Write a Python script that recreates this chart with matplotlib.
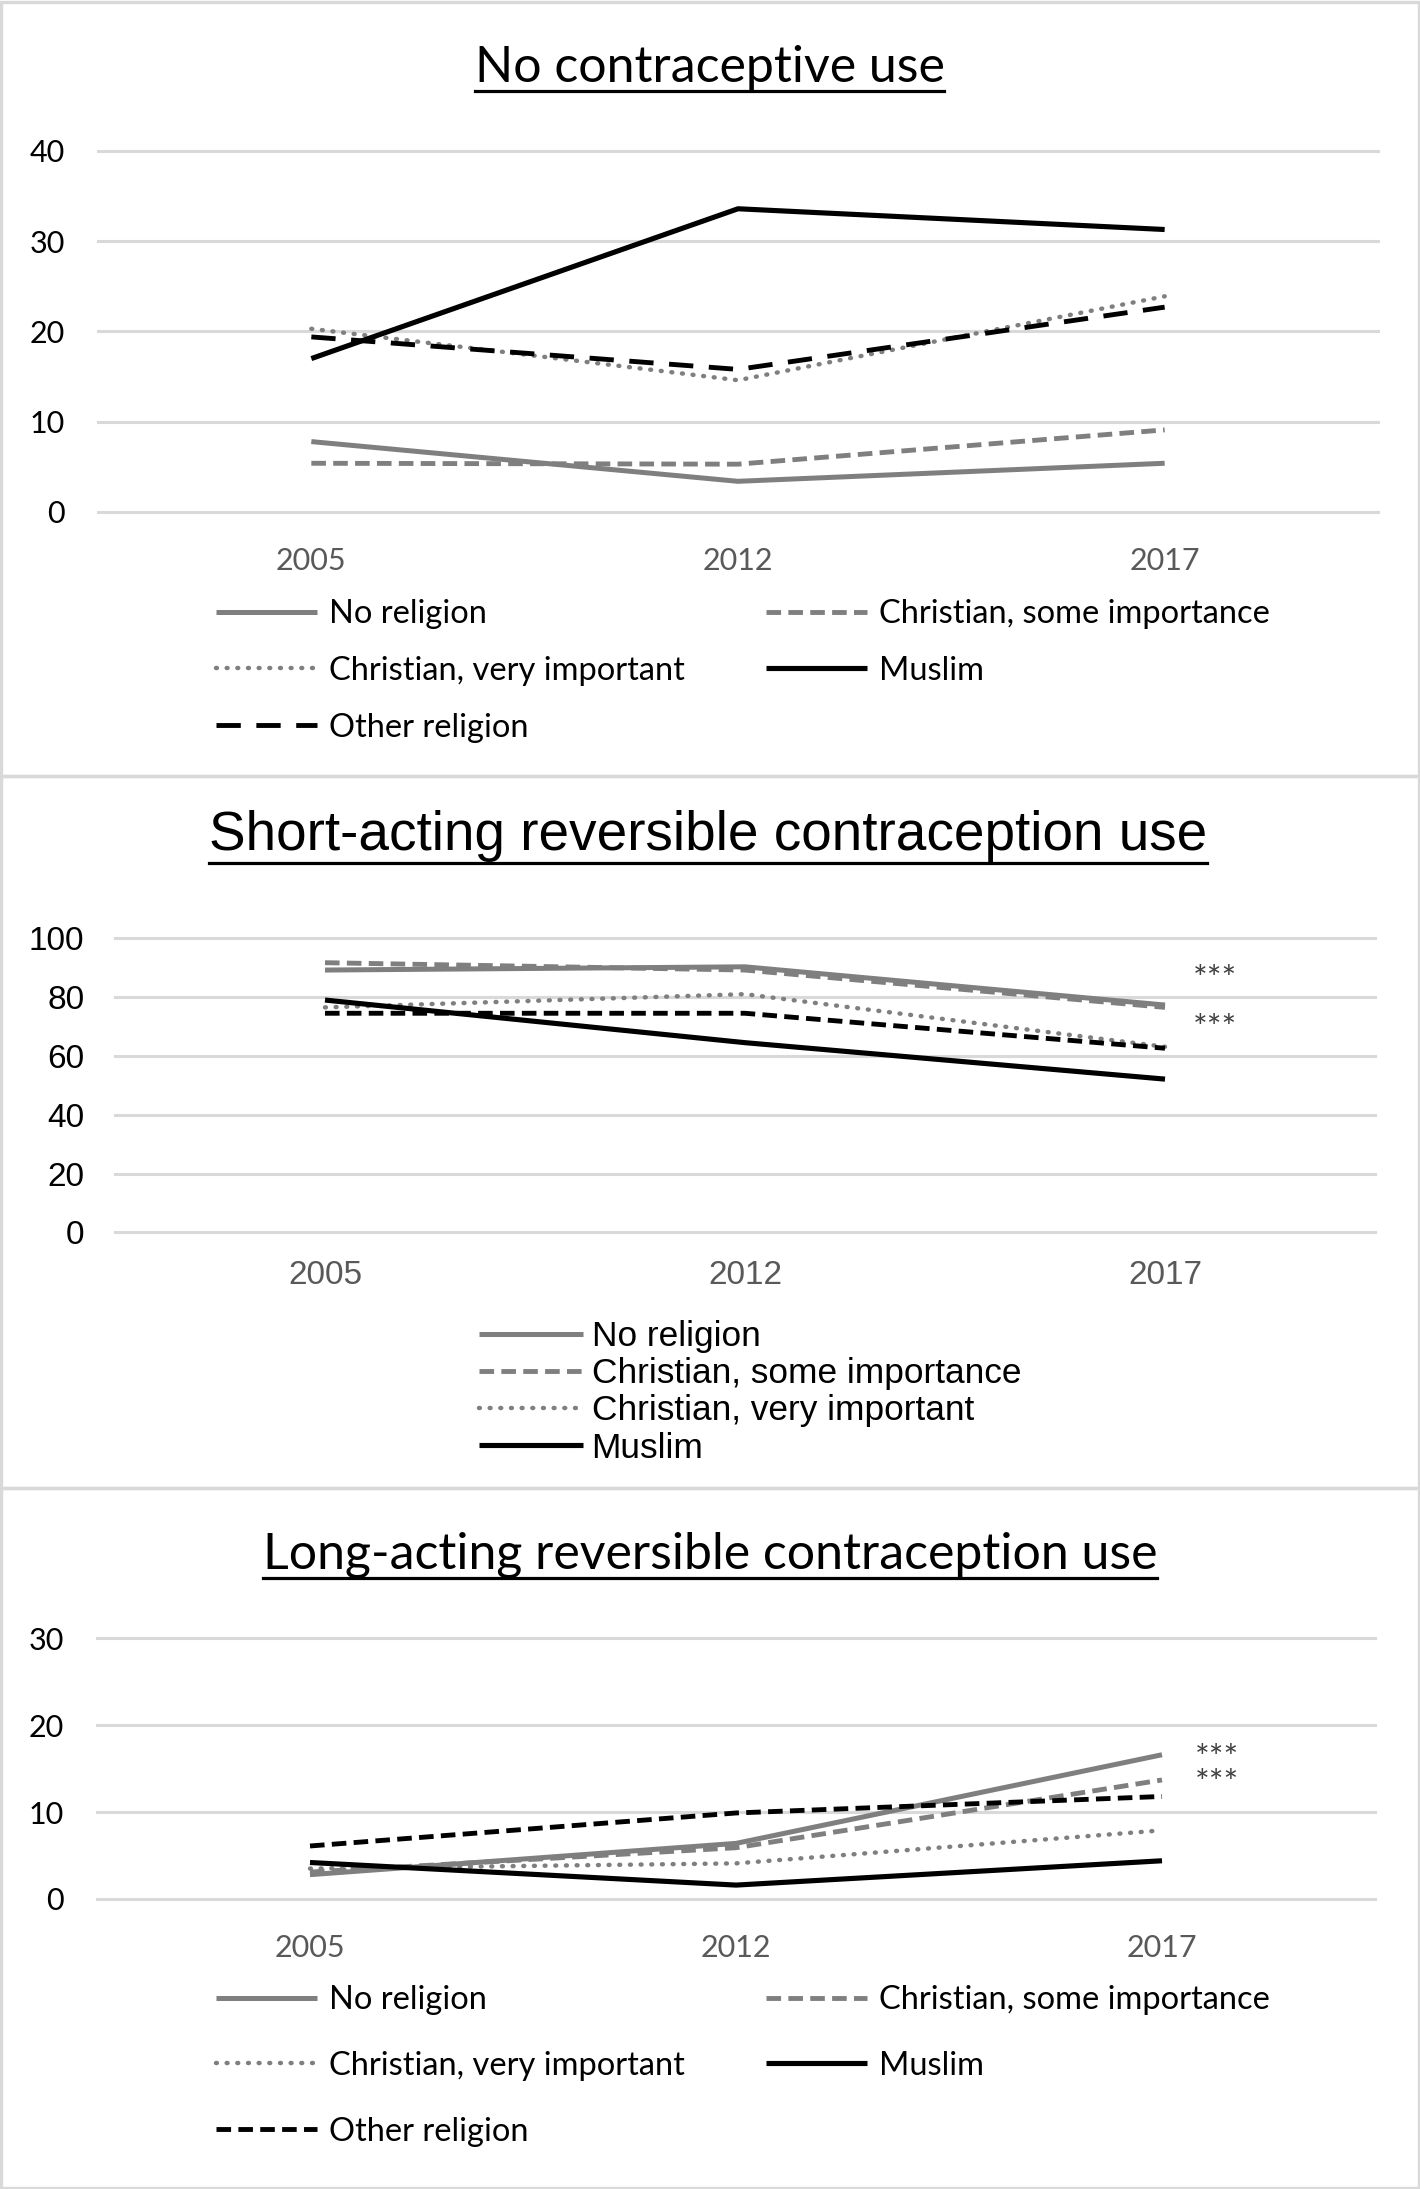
import matplotlib
matplotlib.use('Agg')
import matplotlib.pyplot as plt
from matplotlib.lines import Line2D
from matplotlib.patches import Rectangle
from matplotlib.font_manager import FontProperties

# ---------------- data ----------------
years = ['2005', '2012', '2017']
groups = ['No religion', 'Christian, some importance', 'Christian, very important',
          'Muslim', 'Other religion']

none_no_religion = [7.8, 3.4, 5.4]
none_christian_some = [5.4, 5.3, 9.1]
none_christian_very = [20.3, 14.6, 23.9]
none_muslim = [17.0, 33.6, 31.3]
none_other = [19.4, 15.8, 22.7]

sarc_no_religion = [89.2, 90.3, 77.3]
sarc_christian_some = [91.7, 89.2, 76.5]
sarc_christian_very = [76.5, 81.0, 63.1]
sarc_muslim = [79.0, 64.5, 52.1]
sarc_other = [74.5, 74.5, 62.6]

larc_no_religion = [2.8, 6.4, 16.6]
larc_christian_some = [3.1, 5.9, 13.7]
larc_christian_very = [3.5, 4.1, 7.9]
larc_muslim = [4.2, 1.6, 4.4]
larc_other = [6.1, 9.9, 11.8]

titles = ['No contraceptive use',
          'Short-acting reversible contraception use',
          'Long-acting reversible contraception use']
yticks_none = [0, 10, 20, 30, 40]
yticks_sarc = [0, 20, 40, 60, 80, 100]
yticks_larc = [0, 10, 20, 30]
sig_label = '***'

# ---------------- layout helpers ----------------
W, H = 1420, 2189
fig = plt.figure(figsize=(W / 100, H / 100), dpi=100)

def rect(x0, ytop, x1, ybot):
    return [x0 / W, 1 - ybot / H, (x1 - x0) / W, (ybot - ytop) / H]

GRAY = '#7F7F7F'
GRID = '#D9D9D9'
TICKGRAY = '#595959'
CAL = 'Lato'
ARIAL = 'Liberation Sans'

short_dash = (0, (3.0, 1.5))
long_dash = (0, (5.0, 3.2))
dot = (0, (0.2, 2.2))

def style(name, other_ls):
    if name == 'No religion':
        return dict(color=GRAY, linestyle='-', lw=3.6)
    if name == 'Christian, some importance':
        return dict(color=GRAY, linestyle=short_dash, lw=3.5)
    if name == 'Christian, very important':
        return dict(color=GRAY, linestyle=dot, lw=3.2, dash_capstyle='round')
    if name == 'Muslim':
        return dict(color='black', linestyle='-', lw=3.7)
    return dict(color='black', linestyle=other_ls, lw=3.5)

# panel borders
for (yt, yb) in [(1.5, 776), (776, 1488), (1488, 2187.5)]:
    fig.add_artist(Rectangle((1.5 / W, 1 - yb / H), (W - 3) / W, (yb - yt) / H,
                             transform=fig.transFigure, fill=False,
                             edgecolor=GRID, lw=2.4))

panels = [
    dict(rect=rect(98, 151, 1378, 512), ylim=40, yticks=yticks_none, font=CAL,
         series=[none_no_religion, none_christian_some, none_christian_very, none_muslim, none_other],
         other_ls=long_dash, tsize=22, ypad=24, xpad=25,
         title_xy=(709.5, 82), ul=91, tfont=CAL, tfs=36,
         leg=dict(xy=(216, 599), ncol=2, fs=23.5, hl=3.1, htp=0.37, cs=2.48, ls=0.82, n=5),
         stars=[]),
    dict(rect=rect(115, 938.3, 1375, 1232.3), ylim=100, yticks=yticks_sarc, font=ARIAL,
         series=[sarc_no_religion, sarc_christian_some, sarc_christian_very, sarc_muslim, sarc_other],
         other_ls=short_dash, tsize=24, ypad=22, xpad=20,
         title_xy=(708, 850), ul=863, tfont=ARIAL, tfs=39.5,
         leg=dict(xy=(479, 1320), ncol=1, fs=25.4, hl=2.95, htp=0.24, cs=1.0, ls=0.12, n=4),
         stars=[(2.12, 85.8, 1), (2.12, 69.3, 1)]),
    dict(rect=rect(97, 1638.3, 1375, 1899), ylim=30, yticks=yticks_larc, font=CAL,
         series=[larc_no_religion, larc_christian_some, larc_christian_very, larc_muslim, larc_other],
         other_ls=short_dash, tsize=22, ypad=24, xpad=25,
         title_xy=(710, 1568), ul=1578, tfont=CAL, tfs=36,
         leg=dict(xy=(216, 1985), ncol=2, fs=23.5, hl=3.1, htp=0.37, cs=2.48, ls=1.10, n=5),
         stars=[(2.13, 14.7, 2)]),
]

title_texts = []
for idx, p in enumerate(panels):
    ax = fig.add_axes(p['rect'])
    x = list(range(len(years)))
    handles = []
    for name, vals in zip(groups, p['series']):
        ln, = ax.plot(x, vals, label=name, solid_joinstyle='round',
                      solid_capstyle='butt', **style(name, p['other_ls']))
        handles.append(ln)
    ax.set_xlim(-0.5, len(years) - 0.5)
    ax.set_ylim(0, p['ylim'])
    ax.set_xticks(x)
    ax.set_xticklabels(years, fontfamily=p['font'], fontsize=p['tsize'], color=TICKGRAY)
    ax.set_yticks(p['yticks'])
    ax.set_yticklabels([str(v) for v in p['yticks']], fontfamily=p['font'],
                       fontsize=p['tsize'], color='black')
    ax.tick_params(axis='y', length=0, pad=p['ypad'])
    ax.tick_params(axis='x', length=0, pad=p['xpad'])
    for s in ax.spines.values():
        s.set_visible(False)
    ax.yaxis.grid(True, color=GRID, lw=2.2)
    ax.set_axisbelow(True)
    for gl in ax.get_ygridlines():
        gl.set_clip_on(False)
    for (sx, sy, n) in p['stars']:
        ax.text(sx, sy, '\n'.join([sig_label] * n), fontfamily=CAL, fontsize=25,
                color='#404040', ha='center', va='center', linespacing=0.75)

    lg = p['leg']
    if lg['ncol'] == 2:
        order = [0, 2, 4, 1, 3]
    else:
        order = list(range(lg['n']))
    hs = [handles[i] for i in order]
    ls_ = [groups[i] for i in order]
    ax.legend(hs, ls_, loc='upper left',
              bbox_to_anchor=(lg['xy'][0] / W, 1 - lg['xy'][1] / H),
              bbox_transform=fig.transFigure, ncol=lg['ncol'], frameon=False,
              borderpad=0, borderaxespad=0, handlelength=lg['hl'],
              handletextpad=lg['htp'], columnspacing=lg['cs'], labelspacing=lg['ls'],
              prop=FontProperties(family=p['font'], size=lg['fs']))

    t = fig.text(p['title_xy'][0] / W, 1 - p['title_xy'][1] / H, titles[idx],
                 ha='center', va='baseline', fontfamily=p['tfont'], fontsize=p['tfs'],
                 color='black')
    title_texts.append((t, p['ul']))

# underline titles
fig.canvas.draw()
r = fig.canvas.get_renderer()
for t, uy in title_texts:
    bb = t.get_window_extent(renderer=r)
    fig.add_artist(Line2D([bb.x0 / W, bb.x1 / W], [1 - uy / H, 1 - uy / H],
                          transform=fig.transFigure, color='black', lw=2.3))

fig.savefig('out.png', dpi=100, facecolor='white')
